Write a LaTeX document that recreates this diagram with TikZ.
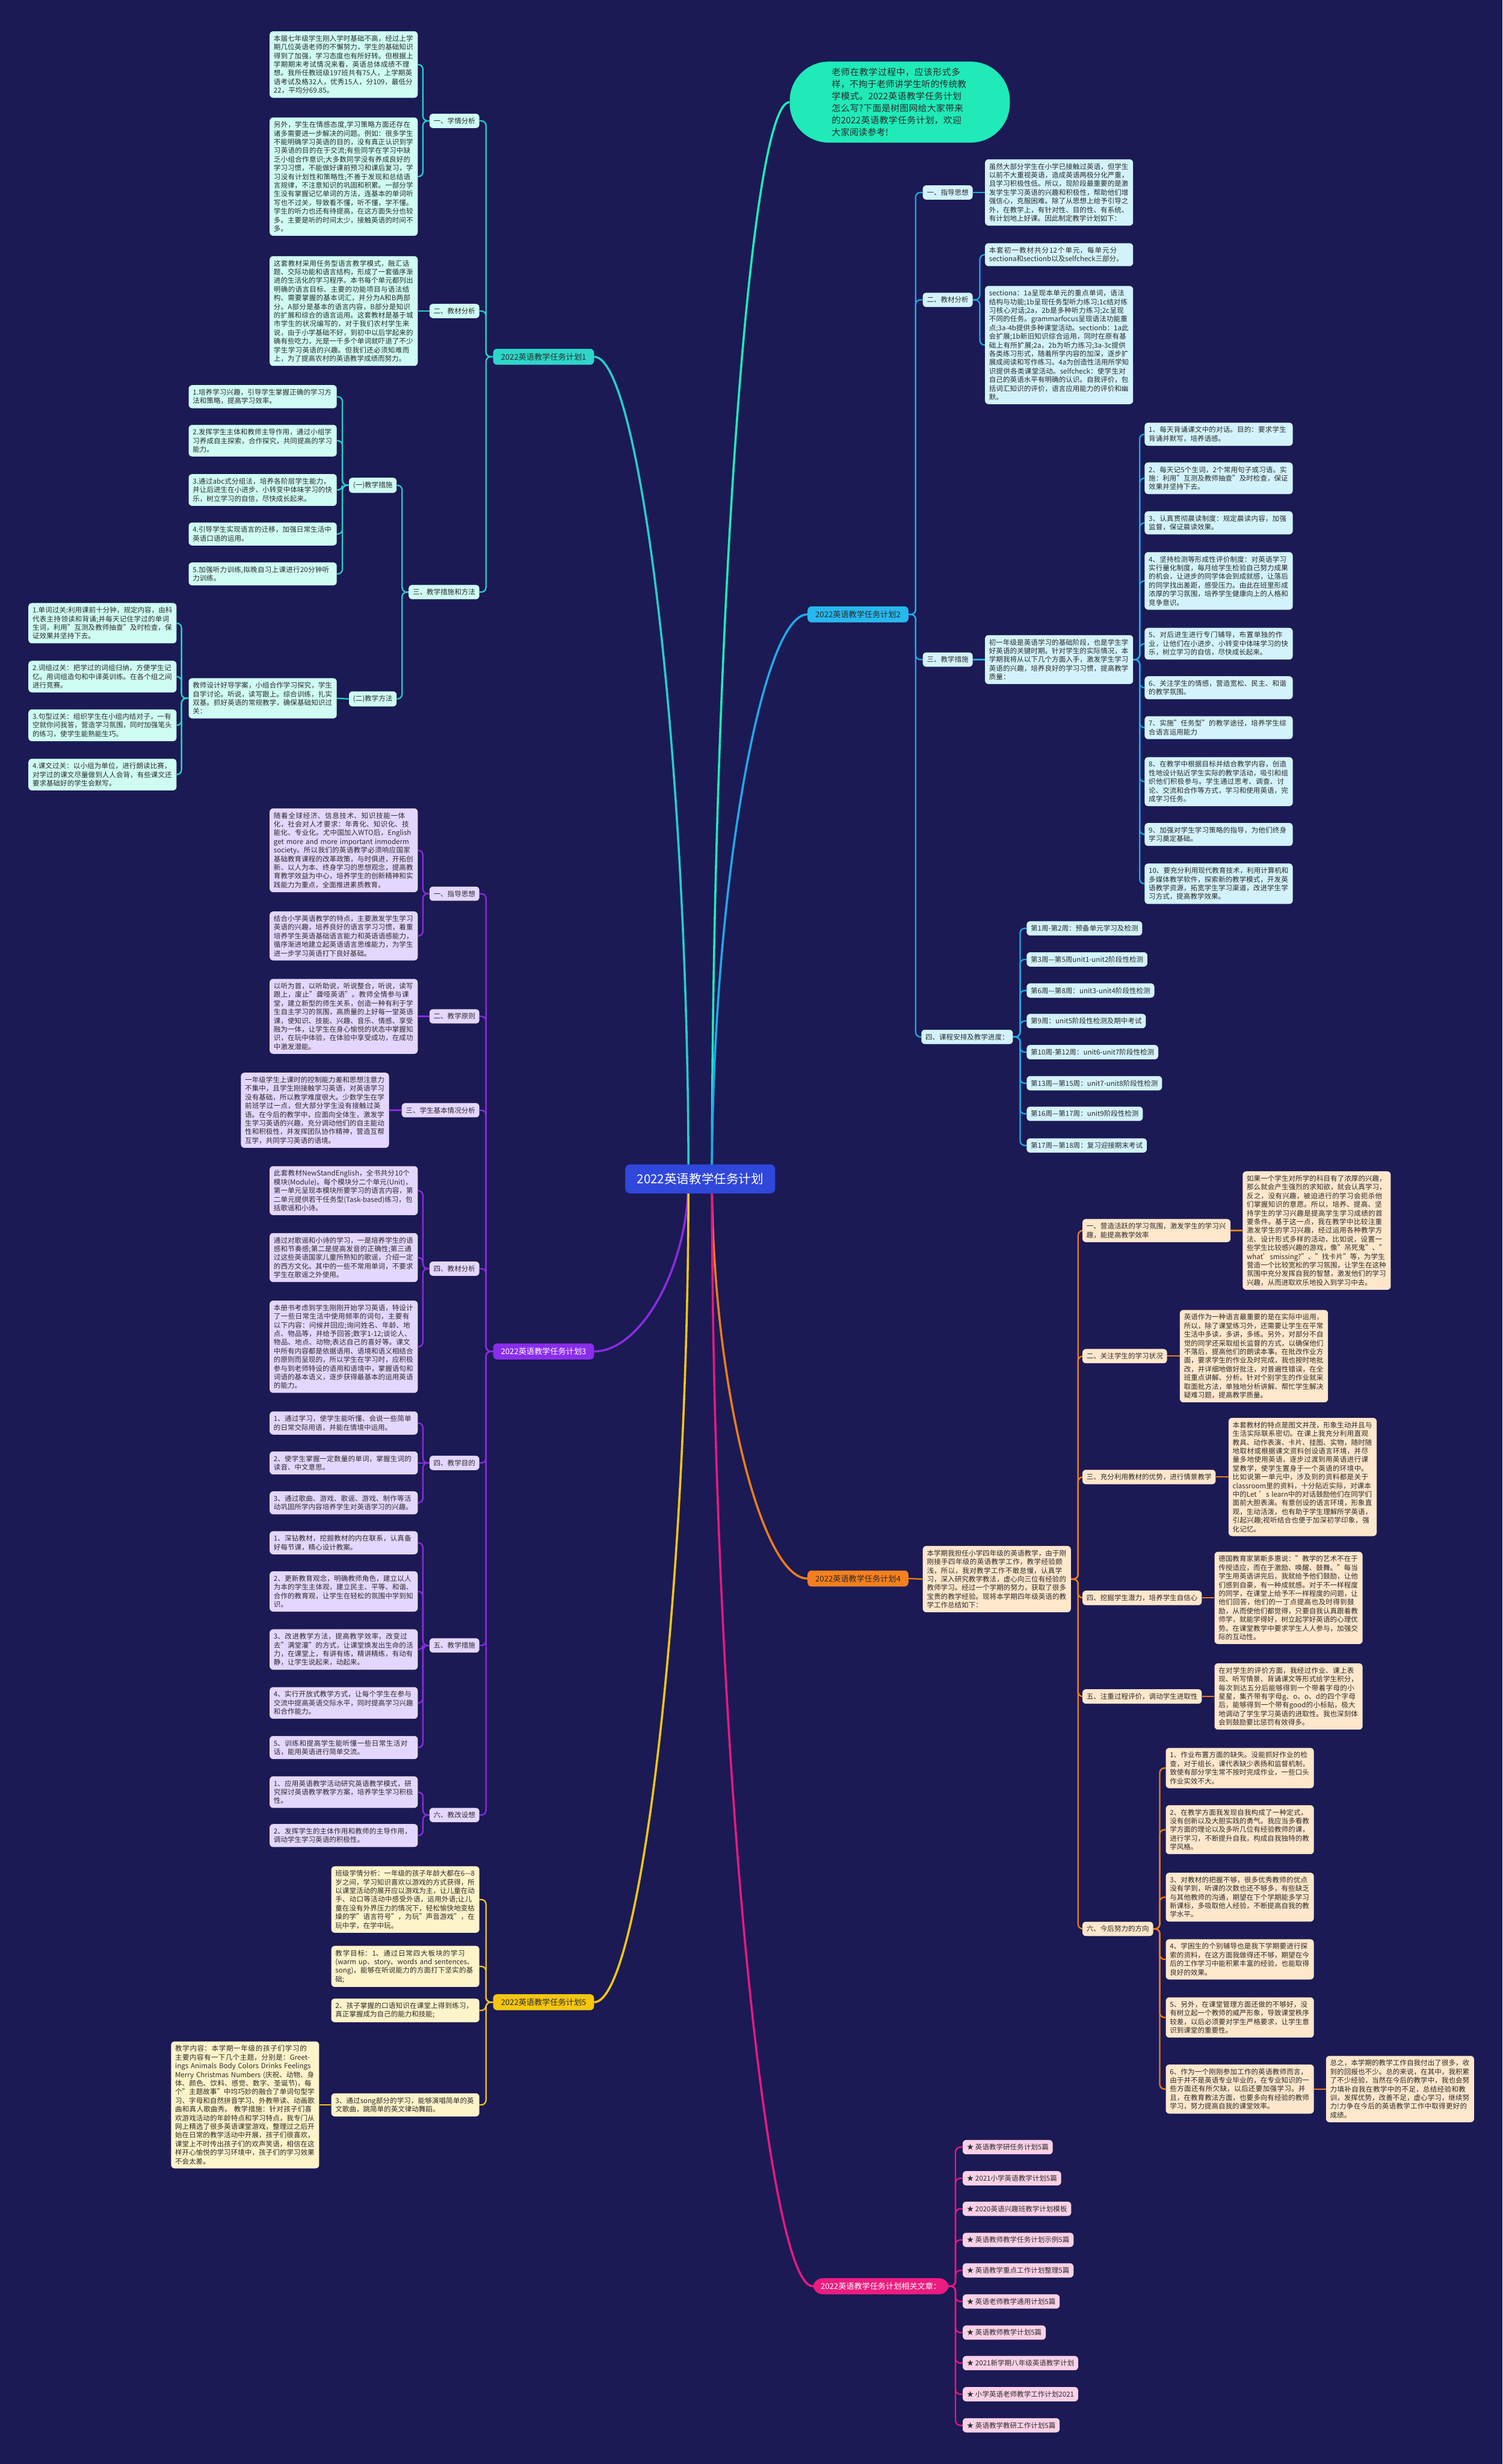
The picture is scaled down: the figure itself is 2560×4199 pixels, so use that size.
\documentclass[tikz,border=0pt]{standalone}
\usepackage{fontspec}
\setmainfont{Noto Sans CJK SC}
\XeTeXlinebreaklocale "zh"
\XeTeXlinebreakskip = 0pt plus 1pt
\usetikzlibrary{calc}

\definecolor{bgnavy}{HTML}{1B1A55}
\definecolor{ctrblue}{HTML}{2F47DB}
\definecolor{mint}{HTML}{1FEAB8}
\definecolor{inkc}{HTML}{2B2B2B}
\definecolor{tealL}{HTML}{25CFC6}
\definecolor{tealR}{HTML}{2ED6C8}
\definecolor{tealF}{HTML}{CFFDF3}
\definecolor{skyL}{HTML}{1FA9E6}
\definecolor{skyR}{HTML}{27B8EE}
\definecolor{skyF}{HTML}{D3F3FC}
\definecolor{violL}{HTML}{8A2BE2}
\definecolor{violR}{HTML}{8A2DEB}
\definecolor{violF}{HTML}{E4D7FF}
\definecolor{orgL}{HTML}{F07C1A}
\definecolor{orgR}{HTML}{F5801E}
\definecolor{orgF}{HTML}{FFE7CC}
\definecolor{yelL}{HTML}{F3C612}
\definecolor{yelR}{HTML}{F5C611}
\definecolor{yelF}{HTML}{FFF3C9}
\definecolor{pinkL}{HTML}{E8197F}
\definecolor{pinkR}{HTML}{EC1C80}
\definecolor{pinkF}{HTML}{FBD1E7}

\pgfdeclarelayer{back}
\pgfdeclarelayer{lines}
\pgfsetlayers{back,lines,main}

\newcommand\boxfont{\fontsize{10.1pt}{12.6pt}\selectfont}
\newcommand\rootfont{\fontsize{11.5pt}{14pt}\selectfont}
\newcommand\introfont{\fontsize{13pt}{17.4pt}\selectfont}
\newcommand\ctrfont{\fontsize{18pt}{22pt}\selectfont}

\tikzset{
  box/.style={rounded corners=1.8mm, inner xsep=2.1mm, inner ysep=2mm, font=\boxfont, text=inkc},
  txt/.style={box, text width=71.5mm, align=left},
  rootbox/.style={rounded corners=2mm, inner xsep=4mm, inner ysep=2.2mm, font=\rootfont, text=inkc},
  conn/.style={line width=0.7mm, rounded corners=2.4mm},
  trunk/.style={line width=1.1mm},
}

\begin{document}
\begin{tikzpicture}[x=0.3mm, y=-0.3mm]
  \begin{pgfonlayer}{back}
    \fill[bgnavy] (0,0) rectangle (2560,4199);
  \end{pgfonlayer}
  \useasboundingbox (0,0) rectangle (2560,4199);

  % centre and intro
  \node[rootbox, fill=ctrblue, text=white, font=\ctrfont, rounded corners=2.5mm, inner xsep=6mm, inner ysep=4.5mm] (ctr) at (1193,2009) {2022英语教学任务计划};
  \node[font=\introfont, fill=mint, text=inkc, text width=69.5mm, align=left, rounded corners=20mm, minimum width=112.5mm, minimum height=41.4mm] (intro) at (1533,174) {老师在教学过程中，应该形式多样，不拘于老师讲学生听的传统教学模式。2022英语教学任务计划怎么写?下面是树图网给大家带来的2022英语教学任务计划，欢迎大家阅读参考!};

  % plan 1
  \begin{scope}[every node/.append style={fill=tealF}]
    \node[rootbox, fill=tealR, anchor=west] (p1) at (840,608) {2022英语教学任务计划1};
    \node[box, anchor=east] (p1a) at (817,206) {一、学情分析};
    \node[txt, anchor=east] (p1a1) at (712,110) {本届七年级学生刚入学时基础不高，经过上学期几位英语老师的不懈努力，学生的基础知识得到了加强，学习态度也有所好转。但根据上学期期末考试情况来看，英语总体成绩不理想。我所任教班级197班共有75人，上学期英语考试及格32人，优秀15人，分109，最低分22，平均分69.85。};
    \node[txt, anchor=east] (p1a2) at (712,301) {另外，学生在情感态度,学习策略方面还存在诸多需要进一步解决的问题。例如：很多学生不能明确学习英语的目的，没有真正认识到学习英语的目的在于交流;有些同学在学习中缺乏小组合作意识;大多数同学没有养成良好的学习习惯，不能做好课前预习和课后复习，学习没有计划性和策略性;不善于发现和总结语言规律，不注意知识的巩固和积累。一部分学生没有掌握记忆单词的方法，连基本的单词听写也不过关，导致看不懂，听不懂，学不懂。学生的听力也还有待提高，在这方面失分也较多。主要是听的时间太少，接触英语的时间不多。};
    \node[box, anchor=east] (p1b) at (817,530) {二、教材分析};
    \node[txt, anchor=east] (p1b1) at (712,530) {这套教材采用任务型语言教学模式，融汇话题、交际功能和语言结构，形成了一套循序渐进的生活化的学习程序。本书每个单元都列出明确的语言目标、主要的功能项目与语法结构、需要掌握的基本词汇，并分为A和B两部分。A部分是基本的语言内容，B部分是知识的扩展和综合的语言运用。这套教材是基于城市学生的状况编写的，对于我们农村学生来说，由于小学基础不好，到初中以后学起来的确有些吃力，光是一千多个单词就吓退了不少学生学习英语的兴趣。但我们还必须知难而上，为了提高农村的英语教学成绩而努力。};
    \node[box, anchor=east] (p1c) at (817,1009) {三、教学措施和方法};
    \node[box, anchor=east] (p1c1) at (676,827) {(一)教学措施};
    \node[txt, anchor=east] (p1m1) at (574,676) {1.培养学习兴趣，引导学生掌握正确的学习方法和策略，提高学习效率。};
    \node[txt, anchor=east] (p1m2) at (574,751) {2.发挥学生主体和教师主导作用，通过小组学习养成自主探索，合作探究，共同提高的学习能力。};
    \node[txt, anchor=east] (p1m3) at (574,835) {3.通过abc式分组法，培养各阶层学生能力，并让后进生在小进步、小转变中体味学习的快乐，树立学习的自信，尽快成长起来。};
    \node[txt, anchor=east] (p1m4) at (574,910) {4.引导学生实现语言的迁移，加强日常生活中英语口语的运用。};
    \node[txt, anchor=east] (p1m5) at (574,978) {5.加强听力训练,拟晚自习上课进行20分钟听力训练。};
    \node[box, anchor=east] (p1c2) at (676,1191) {(二)教学方法};
    \node[txt, anchor=east] (p1c2t) at (574,1190) {教师设计好导学案，小组合作学习探究，学生自学讨论。听说，读写跟上。综合训练，扎实双基。抓好英语的常规教学，确保基础知识过关：};
    \node[txt, anchor=east] (p1n1) at (301,1062) {1.单词过关:利用课前十分钟，规定内容，由科代表主持领读和背诵;并每天记住学过的单词生词，利用"互测及教师抽查"及时检查，保证效果并坚持下去。};
    \node[txt, anchor=east] (p1n2) at (301,1153) {2.词组过关：把学过的词组归纳，方便学生记忆。用词组造句和中译英训练。在各个组之间进行竞赛。};
    \node[txt, anchor=east] (p1n3) at (301,1236) {3.句型过关：组织学生在小组内结对子，一有空就你问我答，营造学习氛围，同时加强笔头的练习，使学生能熟能生巧。};
    \node[txt, anchor=east] (p1n4) at (301,1320) {4.课文过关：以小组为单位，进行朗读比赛，对学过的课文尽量做到人人会背，有些课文还要求基础好的学生会默写。};
  \end{scope}

  % plan 2
  \begin{scope}[every node/.append style={fill=skyF}]
    \node[rootbox, fill=skyR, anchor=east] (p2) at (1548,1047) {2022英语教学任务计划2};
    \node[box, anchor=west] (p2a) at (1572,328) {一、指导思想};
    \node[txt, anchor=west] (p2a1) at (1678,328) {虽然大部分学生在小学已接触过英语，但学生以前不大重视英语，造成英语两极分化严重，且学习积极性低。所以，现阶段最重要的是激发学生学习英语的兴趣和积极性，帮助他们增强信心，克服困难。除了从思想上给予引导之外，在教学上，有针对性、目的性、有系统、有计划地上好课。因此制定教学计划如下：};
    \node[box, anchor=west] (p2b) at (1572,511) {二、教材分析};
    \node[txt, anchor=west] (p2b1) at (1678,434) {本套初一教材共分12个单元，每单元分sectiona和sectionb以及selfcheck三部分。};
    \node[txt, anchor=west] (p2b2) at (1678,588) {sectiona：1a呈现本单元的重点单词，语法结构与功能;1b呈现任务型听力练习;1c结对练习核心对话;2a，2b是多种听力练习;2c呈现不同的任务。grammarfocus呈现语法功能重点;3a-4b提供多种课堂活动。sectionb：1a此会扩展;1b新旧知识综合运用，同时在原有基础上有所扩展;2a，2b为听力练习;3a-3c提供各类练习形式，随着所学内容的加深，逐步扩展成阅读和写作练习。4a为创造性活用所学知识提供各类课堂活动。selfcheck：使学生对自己的英语水平有明确的认识。自我评价，包括词汇知识的评价，语言应用能力的评价和幽默。};
    \node[box, anchor=west] (p2c) at (1572,1124) {三、教学措施};
    \node[txt, anchor=west] (p2c1) at (1678,1124) {初一年级是英语学习的基础阶段，也是学生学好英语的关键时期。针对学生的实际情况，本学期我将从以下几个方面入手，激发学生学习英语的兴趣，培养良好的学习习惯，提高教学质量：};
    \node[txt, anchor=west] (p2q1) at (1950,740) {1、每天背诵课文中的对话。目的：要求学生背诵并默写，培养语感。};
    \node[txt, anchor=west] (p2q2) at (1950,815) {2、每天记5个生词，2个常用句子或习语。实施：利用"互测及教师抽查"及时检查，保证效果并坚持下去。};
    \node[txt, anchor=west] (p2q3) at (1950,891) {3、认真贯彻晨读制度：规定晨读内容，加强监督，保证晨读效果。};
    \node[txt, anchor=west] (p2q4) at (1950,990) {4、坚持检测等形成性评价制度：对英语学习实行量化制度，每月给学生检验自己努力成果的机会，让进步的同学体会到成就感，让落后的同学找出差距，感受压力。由此在班里形成浓厚的学习氛围，培养学生健康向上的人格和竞争意识。};
    \node[txt, anchor=west] (p2q5) at (1950,1097) {5、对后进生进行专门辅导，布置单独的作业，让他们在小进步、小转变中体味学习的快乐，树立学习的自信，尽快成长起来。};
    \node[txt, anchor=west] (p2q6) at (1950,1172) {6、关注学生的情感，营造宽松、民主、和谐的教学氛围。};
    \node[txt, anchor=west] (p2q7) at (1950,1240) {7、实施"任务型"的教学途径，培养学生综合语言运用能力};
    \node[txt, anchor=west] (p2q8) at (1950,1332) {8、在教学中根据目标并结合教学内容，创造性地设计贴近学生实际的教学活动，吸引和组织他们积极参与。学生通过思考、调查、讨论、交流和合作等方式，学习和使用英语，完成学习任务。};
    \node[txt, anchor=west] (p2q9) at (1950,1422) {9、加强对学生学习策略的指导，为他们终身学习奠定基础。};
    \node[txt, anchor=west] (p2q10) at (1950,1506) {10、要充分利用现代教育技术，利用计算机和多媒体教学软件，探索新的教学模式，开发英语教学资源，拓宽学生学习渠道，改进学生学习方式，提高教学效果。};
    \node[box, anchor=east] (p2d) at (1726,1767) {四、课程安排及教学进度：};
    \node[box, anchor=west] (p2w1) at (1749,1582) {第1周-第2周：预备单元学习及检测};
    \node[box, anchor=west] (p2w2) at (1749,1635) {第3周—第5周unit1-unit2阶段性检测};
    \node[box, anchor=west] (p2w3) at (1749,1688) {第6周—第8周：unit3-unit4阶段性检测};
    \node[box, anchor=west] (p2w4) at (1749,1740) {第9周：unit5阶段性检测及期中考试};
    \node[box, anchor=west] (p2w5) at (1749,1793) {第10周-第12周：unit6-unit7阶段性检测};
    \node[box, anchor=west] (p2w6) at (1749,1846) {第13周—第15周：unit7-unit8阶段性检测};
    \node[box, anchor=west] (p2w7) at (1749,1898) {第16周—第17周：unit9阶段性检测};
    \node[box, anchor=west] (p2w8) at (1749,1952) {第17周—第18周：复习迎接期末考试};
  \end{scope}

  % plan 3
  \begin{scope}[every node/.append style={fill=violF}]
    \node[rootbox, fill=violR, text=white, anchor=west] (p3) at (840,2303) {2022英语教学任务计划3};
    \node[box, anchor=east] (p3a) at (817,1523) {一、指导思想};
    \node[txt, anchor=east] (p3a1) at (712,1449) {随着全球经济、信息技术、知识技能一体化，社会对人才要求：年青化、知识化、技能化、专业化。尤中国加入WTO后，English get more and more important inmoderm society。所以我们的英语教学必须响应国家基础教育课程的改革政策，与时俱进，开拓创新、以人为本、终身学习的思想观念，提高教育教学效益为中心，培养学生的创新精神和实践能力为重点，全面推进素质教育。};
    \node[txt, anchor=east] (p3a2) at (712,1595) {结合小学英语教学的特点，主要激发学生学习英语的兴趣，培养良好的语言学习习惯，着重培养学生英语基础语言能力和英语语感能力，循序渐进地建立起英语语言思维能力，为学生进一步学习英语打下良好基础。};
    \node[box, anchor=east] (p3b) at (817,1732) {二、教学原则};
    \node[txt, anchor=east] (p3b1) at (712,1732) {以听为首，以听助说，听说整合，听说，读写跟上，废止"聋哑英语"。教师全情参与课堂，建立新型的师生关系，创造一种有利于学生自主学习的氛围，高质量的上好每一堂英语课，使知识、技能、兴趣、音乐、情感、享受融为一体，让学生在身心愉悦的状态中掌握知识，在玩中体验，在体验中享受成功，在成功中激发潜能。};
    \node[box, anchor=east] (p3c) at (817,1892) {三、学生基本情况分析};
    \node[txt, anchor=east] (p3c1) at (663,1892) {一年级学生上课时的控制能力差和思想注意力不集中，且学生刚接触学习英语，对英语学习没有基础，所以教学难度很大。少数学生在学前班学过一点，但大部分学生没有接触过英语。在今后的教学中，应面向全体生，激发学生学习英语的兴趣，充分调动他们的自主能动性和积极性，并发挥团队协作精神，营造互帮互学，共同学习英语的语境。};
    \node[box, anchor=east] (p3d) at (817,2162) {四、教材分析};
    \node[txt, anchor=east] (p3d1) at (712,2029) {此套教材NewStandEnglish，全书共分10个模块(Module)。每个模块分二个单元(Unit)，第一单元呈现本模块所要学习的语言内容，第二单元提供若干任务型(Task-based)练习，包括歌谣和小诗。};
    \node[txt, anchor=east] (p3d2) at (712,2143) {通过对歌谣和小诗的学习，一是培养学生的语感和节奏感;第二是提高发音的正确性;第三通过这些英语国家儿童所熟知的歌谣，介绍一定的西方文化。其中的一些不常用单词，不要求学生在歌谣之外使用。};
    \node[txt, anchor=east] (p3d3) at (712,2295) {本册书考虑到学生刚刚开始学习英语，特设计了一些日常生活中使用频率的词句，主要有以下内容：问候并回应;询问姓名、年龄、地点、物品等，并给予回答;数字1-12;谈论人、物品、地点、动物;表达自己的喜好等。课文中所有内容都是依据语用、语境和语义相结合的原则而呈现的，所以学生在学习时，应积极参与到老师特设的语用和语境中，掌握语句和词语的基本语义，逐步获得最基本的运用英语的能力。};
    \node[box, anchor=east] (p3e) at (817,2493) {四、教学目的};
    \node[txt, anchor=east] (p3e1) at (712,2425) {1、通过学习，使学生能听懂、会说一些简单的日常交际用语，并能在情境中运用。};
    \node[txt, anchor=east] (p3e2) at (712,2493) {2、使学生掌握一定数量的单词，掌握生词的读音、中文意思。};
    \node[txt, anchor=east] (p3e3) at (712,2561) {3、通过歌曲、游戏、歌谣、游戏、制作等活动巩固所学内容培养学生对英语学习的兴趣。};
    \node[box, anchor=east] (p3f) at (817,2804) {五、教学措施};
    \node[txt, anchor=east] (p3f1) at (712,2629) {1、深钻教材，挖掘教材的内在联系，认真备好每节课，精心设计教案。};
    \node[txt, anchor=east] (p3f2) at (712,2712) {2、更新教育观念，明确教师角色，建立以人为本的学生主体观，建立民主、平等、和谐、合作的教育观，让学生在轻松的氛围中学到知识。};
    \node[txt, anchor=east] (p3f3) at (712,2811) {3、改进教学方法，提高教学效率，改变过去"满堂灌"的方式，让课堂焕发出生命的活力，在课堂上，有讲有练，精讲精练，有动有静，让学生说起来，动起来。};
    \node[txt, anchor=east] (p3f4) at (712,2902) {4、实行开放式教学方式，让每个学生在参与交流中提高英语交际水平，同时提高学习兴趣和合作能力。};
    \node[txt, anchor=east] (p3f5) at (712,2978) {5、训练和提高学生能听懂一些日常生活对话，能用英语进行简单交流。};
    \node[box, anchor=east] (p3g) at (817,3093) {六、教改设想};
    \node[txt, anchor=east] (p3g1) at (712,3054) {1、应用英语教学活动研究英语教学模式，研究探讨英语教学教学方案，培养学生学习积极性。};
    \node[txt, anchor=east] (p3g2) at (712,3128) {2、发挥学生的主体作用和教师的主导作用，调动学生学习英语的积极性。};
  \end{scope}

  % plan 4
  \begin{scope}[every node/.append style={fill=orgF}]
    \node[rootbox, fill=orgR, anchor=east] (p4) at (1548,2690) {2022英语教学任务计划4};
    \node[txt, anchor=west] (p4a) at (1572,2691) {本学期我担任小学四年级的英语教学，由于刚刚接手四年级的英语教学工作，教学经验颇浅，所以，我对教学工作不敢怠慢，认真学习，深入研究教学教法，虚心向三位有经验的教师学习。经过一个学期的努力，获取了很多宝贵的教学经验。现将本学期四年级英语的教学工作总结如下：};
    \node[txt, anchor=west] (p4b) at (1844,2097) {一、营造活跃的学习氛围，激发学生的学习兴趣，能提高教学效率};
    \node[txt, anchor=west] (p4b1) at (2117,2097) {如果一个学生对所学的科目有了浓厚的兴趣，那么就会产生强烈的求知欲，就会认真学习，反之，没有兴趣，被迫进行的学习会扼杀他们掌握知识的意愿。所以，培养、提高、坚持学生的学习兴趣是提高学生学习成绩的首要条件。基于这一点，我在教学中比较注重激发学生的学习兴趣，经过运用各种教学方法、设计形式多样的活动，比如说，设置一些学生比较感兴趣的游戏，像"吊死鬼"、"what'smissing?"、"找卡片"等，为学生营造一个比较宽松的学习氛围，让学生在这种氛围中充分发挥自我的智慧，激发他们的学习兴趣，从而进取欢乐地投入到学习中去。};
    \node[box, anchor=west] (p4c) at (1844,2311) {二、关注学生的学习状况};
    \node[txt, anchor=west] (p4c1) at (2010,2311) {英语作为一种语言最重要的是在实际中运用，所以，除了课堂练习外，还需要让学生在平常生活中多读，多讲，多练。另外，对部分不自觉的同学还采取组长监督的方式，以确保他们不落后，提高他们的朗读本事。在批改作业方面，要求学生的作业及时完成，我也按时地批改，并详细地做好批注，对普遍性错误，在全班重点讲解、分析。针对个别学生的作业就采取面批方法，单独地分析讲解、帮忙学生解决疑难习题，提高教学质量。};
    \node[box, anchor=west] (p4d) at (1844,2517) {三、充分利用教材的优势，进行情景教学};
    \node[txt, anchor=west] (p4d1) at (2093,2517) {本套教材的特点是图文并茂，形象生动并且与生活实际联系密切。在课上我充分利用直观教具、动作表演、卡片、挂图、实物，随时随地取材或根据课文资料创设语言环境，并尽量多地使用英语，逐步过渡到用英语进行课堂教学，使学生置身于一个英语的环境中。比如说第一单元中，涉及到的资料都是关于classroom里的资料，十分贴近实际，对课本中的Let 's learn中的对话鼓励他们在同学们面前大胆表演。有意创设的语言环境，形象直观，生动活泼，也有助于学生理解所学英语，引起兴趣;视听结合也便于加深初学印象，强化记忆。};
    \node[box, anchor=west] (p4e) at (1844,2723) {四、挖掘学生潜力，培养学生自信心};
    \node[txt, anchor=west] (p4e1) at (2069,2723) {德国教育家第斯多惠说："教学的艺术不在于传授适应，而在于激励、唤醒、鼓舞。"每当学生用英语讲完后，我就给予他们鼓励，让他们感到自豪，有一种成就感。对于不一样程度的同学，在课堂上给予不一样程度的问题，让他们回答，他们的一丁点提高也及时得到鼓励，从而使他们都觉得，只要自我认真跟着教师学，就能学得好，树立起学好英语的心理优势。在课堂教学中要求学生人人参与，加强交际的互动性。};
    \node[box, anchor=west] (p4f) at (1844,2891) {五、注重过程评价，调动学生进取性};
    \node[txt, anchor=west] (p4f1) at (2069,2891) {在对学生的评价方面，我经过作业、课上表现、听写情景、背诵课文等形式给学生积分，每次到达五分后能够得到一个带着字母的小星星，集齐带有字母g、o、o、d的四个字母后，能够得到一个带有good的小标贴，极大地调动了学生学习英语的进取性。我也深刻体会到鼓励要比惩罚有效得多。};
    \node[box, anchor=west] (p4g) at (1844,3287) {六、今后努力的方向};
    \node[txt, anchor=west] (p4g1) at (1986,3013) {1、作业布置方面的缺失。没能抓好作业的检查，对于组长，课代表缺少表扬和监督机制，致使有部分学生常不按时完成作业，一些口头作业实效不大。};
    \node[txt, anchor=west] (p4g2) at (1986,3118) {2、在教学方面我发现自我构成了一种定式，没有创新以及大胆实践的勇气。我应当多看教学方面的理论以及多听几位有经验教师的课，进行学习，不断提升自我，构成自我独特的教学风格。};
    \node[txt, anchor=west] (p4g3) at (1986,3233) {3、对教材的把握不够，很多优秀教师的优点没有学到，听课的次数也还不够多，有些缺乏与其他教师的沟通，期望在下个学期能多学习新课标，多吸取他人经验，不断提高自我的教学水平。};
    \node[txt, anchor=west] (p4g4) at (1986,3339) {4、学困生的个别辅导也是我下学期要进行探索的资料，在这方面我做得还不够，期望在今后的工作学习中能积累丰富的经验，也能取得良好的效果。};
    \node[txt, anchor=west] (p4g5) at (1986,3438) {5、另外，在课堂管理方面还做的不够好，没有树立起一个教师的威严形象，导致课堂秩序较差，以后必须要对学生严格要求，让学生意识到课堂的重要性。};
    \node[txt, anchor=west] (p4g6) at (1986,3560) {6、作为一个刚刚参加工作的英语教师而言，由于并不是英语专业毕业的，在专业知识的一些方面还有所欠缺，以后还要加强学习。并且，在教育教法方面，也要多向有经验的教师学习，努力提高自我的课堂效率。};
    \node[txt, anchor=west] (p4h) at (2259,3560) {总之，本学期的教学工作自我付出了很多，收到的回报也不少。总的来说，在其中，我积累了不少经验，当然在今后的教学中，我也会努力填补自我在教学中的不足，总结经验和教训，发挥优势，改善不足，虚心学习，继续努力!力争在今后的英语教学工作中取得更好的成绩。};
  \end{scope}

  % plan 5
  \begin{scope}[every node/.append style={fill=yelF}]
    \node[rootbox, fill=yelR, anchor=west] (p5) at (840,3412) {2022英语教学任务计划5};
    \node[txt, anchor=east] (p5a) at (817,3237) {班级学情分析：一年级的孩子年龄大都在6—8岁之间，学习知识喜欢以游戏的方式获得，所以课堂活动的展开应以游戏为主，让儿童在动手、动口等活动中感受外语，运用外语;让儿童在没有外界压力的情况下，轻松愉快地变枯燥的学"语言符号"，为玩"声音游戏"，在玩中学，在学中玩。};
    \node[txt, anchor=east] (p5b) at (817,3351) {教学目标：1、通过日常四大板块的学习(warm up、story、words and sentences、song)，能够在听说能力的方面打下坚实的基础;};
    \node[txt, anchor=east] (p5c) at (817,3426) {2、孩子掌握的口语知识在课堂上得到练习，真正掌握成为自己的能力和技能;};
    \node[txt, anchor=east] (p5d) at (817,3587) {3、通过song部分的学习，能够演唱简单的英文歌曲，跳简单的英文律动舞蹈。};
    \node[txt, anchor=east] (p5d1) at (544,3587) {教学内容：本学期一年级的孩子们学习的主要内容有一下几个主题，分别是：Greetings Animals Body Colors Drinks Feelings Merry Christmas Numbers (庆祝、动物、身体、颜色、饮料、感觉、数字、圣诞节)，每个"主题故事"中均巧妙的融合了单词句型学习、字母和自然拼音学习、外教带读、动画歌曲和真人歌曲秀。 教学措施：针对孩子们喜欢游戏活动的年龄特点和学习特点，我专门从网上精选了很多英语课堂游戏，整理过之后开始在日常的教学活动中开展，孩子们很喜欢，课堂上不时传出孩子们的欢声笑语，相信在这样开心愉悦的学习环境中，孩子们的学习效果不会太差。};
  \end{scope}

  % related articles
  \begin{scope}[every node/.append style={fill=pinkF}]
    \node[rootbox, fill=pinkR, text=white, rounded corners=5mm, anchor=east] (rel) at (1617,3896) {2022英语教学任务计划相关文章：};
    \node[box, anchor=west] (r1) at (1640,3659) {★ 英语教学研任务计划5篇};
    \node[box, anchor=west] (r2) at (1640,3712) {★ 2021小学英语教学计划5篇};
    \node[box, anchor=west] (r3) at (1640,3764) {★ 2020英语兴趣班教学计划模板};
    \node[box, anchor=west] (r4) at (1640,3817) {★ 英语教师教学任务计划示例5篇};
    \node[box, anchor=west] (r5) at (1640,3869) {★ 英语教学重点工作计划整理5篇};
    \node[box, anchor=west] (r6) at (1640,3922) {★ 英语老师教学通用计划5篇};
    \node[box, anchor=west] (r7) at (1640,3975) {★ 英语教师教学计划5篇};
    \node[box, anchor=west] (r8) at (1640,4027) {★ 2021新学期八年级英语教学计划};
    \node[box, anchor=west] (r9) at (1640,4080) {★ 小学英语老师教学工作计划2021};
    \node[box, anchor=west] (r10) at (1640,4133) {★ 英语教学教研工作计划5篇};
  \end{scope}

  \begin{pgfonlayer}{lines}
    % trunks from the centre
    \draw[trunk, mint] ([xshift=6mm]ctr.center) .. controls +(0,-900) and +(-70,0) .. (intro.west);
    \draw[trunk, tealL] ([xshift=-6mm]ctr.center) .. controls +(0,-700) and +(80,0) .. (p1.east);
    \draw[trunk, skyL] ([xshift=6mm]ctr.center) .. controls +(0,-480) and +(-80,0) .. (p2.west);
    \draw[trunk, violL] ([xshift=-6mm]ctr.center) .. controls +(0,150) and +(80,0) .. (p3.east);
    \draw[trunk, orgL] ([xshift=6mm]ctr.center) .. controls +(0,340) and +(-80,0) .. (p4.west);
    \draw[trunk, yelL] ([xshift=-6mm]ctr.center) .. controls +(0,700) and +(80,0) .. (p5.east);
    \draw[trunk, pinkL] ([xshift=6mm]ctr.center) .. controls +(0,940) and +(-80,0) .. (rel.west);

    \begin{scope}[tealL]
      \draw[conn] (p1.west) -- ++(-12,0) |- (p1a.east);
      \draw[conn] (p1.west) -- ++(-12,0) |- (p1b.east);
      \draw[conn] (p1.west) -- ++(-12,0) |- (p1c.east);
      \draw[conn] (p1a.west) -- ++(-11,0) |- (p1a1.east);
      \draw[conn] (p1a.west) -- ++(-11,0) |- (p1a2.east);
      \draw[conn] (p1b.west) -- (p1b1.east);
      \draw[conn] (p1c.west) -- ++(-11,0) |- (p1c1.east);
      \draw[conn] (p1c.west) -- ++(-11,0) |- (p1c2.east);
      \draw[conn] (p1c1.west) -- ++(-11,0) |- (p1m1.east);
      \draw[conn] (p1c1.west) -- ++(-11,0) |- (p1m2.east);
      \draw[conn] (p1c1.west) -- ++(-11,0) |- (p1m3.east);
      \draw[conn] (p1c1.west) -- ++(-11,0) |- (p1m4.east);
      \draw[conn] (p1c1.west) -- ++(-11,0) |- (p1m5.east);
      \draw[conn] (p1c2.west) -- (p1c2t.east);
      \draw[conn] (p1c2t.west) -- ++(-12,0) |- (p1n1.east);
      \draw[conn] (p1c2t.west) -- ++(-12,0) |- (p1n2.east);
      \draw[conn] (p1c2t.west) -- ++(-12,0) |- (p1n3.east);
      \draw[conn] (p1c2t.west) -- ++(-12,0) |- (p1n4.east);
    \end{scope}

    \begin{scope}[skyL]
      \draw[conn] (p2.east) -- ++(12,0) |- (p2a.west);
      \draw[conn] (p2.east) -- ++(12,0) |- (p2b.west);
      \draw[conn] (p2.east) -- ++(12,0) |- (p2c.west);
      \draw[conn] (p2.east) -- ++(12,0) |- (p2d.west);
      \draw[conn] (p2a.east) -- (p2a1.west);
      \draw[conn] (p2b.east) -- ++(12,0) |- (p2b1.west);
      \draw[conn] (p2b.east) -- ++(12,0) |- (p2b2.west);
      \draw[conn] (p2c.east) -- (p2c1.west);
      \draw[conn] (p2c1.east) -- ++(11,0) |- (p2q1.west);
      \draw[conn] (p2c1.east) -- ++(11,0) |- (p2q2.west);
      \draw[conn] (p2c1.east) -- ++(11,0) |- (p2q3.west);
      \draw[conn] (p2c1.east) -- ++(11,0) |- (p2q4.west);
      \draw[conn] (p2c1.east) -- ++(11,0) |- (p2q5.west);
      \draw[conn] (p2c1.east) -- ++(11,0) |- (p2q6.west);
      \draw[conn] (p2c1.east) -- ++(11,0) |- (p2q7.west);
      \draw[conn] (p2c1.east) -- ++(11,0) |- (p2q8.west);
      \draw[conn] (p2c1.east) -- ++(11,0) |- (p2q9.west);
      \draw[conn] (p2c1.east) -- ++(11,0) |- (p2q10.west);
      \draw[conn] (p2d.east) -- ++(12,0) |- (p2w1.west);
      \draw[conn] (p2d.east) -- ++(12,0) |- (p2w2.west);
      \draw[conn] (p2d.east) -- ++(12,0) |- (p2w3.west);
      \draw[conn] (p2d.east) -- ++(12,0) |- (p2w4.west);
      \draw[conn] (p2d.east) -- ++(12,0) |- (p2w5.west);
      \draw[conn] (p2d.east) -- ++(12,0) |- (p2w6.west);
      \draw[conn] (p2d.east) -- ++(12,0) |- (p2w7.west);
      \draw[conn] (p2d.east) -- ++(12,0) |- (p2w8.west);
    \end{scope}

    \begin{scope}[violL]
      \draw[conn] (p3.west) -- ++(-12,0) |- (p3a.east);
      \draw[conn] (p3.west) -- ++(-12,0) |- (p3b.east);
      \draw[conn] (p3.west) -- ++(-12,0) |- (p3c.east);
      \draw[conn] (p3.west) -- ++(-12,0) |- (p3d.east);
      \draw[conn] (p3.west) -- ++(-12,0) |- (p3e.east);
      \draw[conn] (p3.west) -- ++(-12,0) |- (p3f.east);
      \draw[conn] (p3.west) -- ++(-12,0) |- (p3g.east);
      \draw[conn] (p3a.west) -- ++(-11,0) |- (p3a1.east);
      \draw[conn] (p3a.west) -- ++(-11,0) |- (p3a2.east);
      \draw[conn] (p3b.west) -- (p3b1.east);
      \draw[conn] (p3c.west) -- (p3c1.east);
      \draw[conn] (p3d.west) -- ++(-11,0) |- (p3d1.east);
      \draw[conn] (p3d.west) -- ++(-11,0) |- (p3d2.east);
      \draw[conn] (p3d.west) -- ++(-11,0) |- (p3d3.east);
      \draw[conn] (p3e.west) -- ++(-11,0) |- (p3e1.east);
      \draw[conn] (p3e.west) -- (p3e2.east);
      \draw[conn] (p3e.west) -- ++(-11,0) |- (p3e3.east);
      \draw[conn] (p3f.west) -- ++(-11,0) |- (p3f1.east);
      \draw[conn] (p3f.west) -- ++(-11,0) |- (p3f2.east);
      \draw[conn] (p3f.west) -- ++(-11,0) |- (p3f3.east);
      \draw[conn] (p3f.west) -- ++(-11,0) |- (p3f4.east);
      \draw[conn] (p3f.west) -- ++(-11,0) |- (p3f5.east);
      \draw[conn] (p3g.west) -- ++(-11,0) |- (p3g1.east);
      \draw[conn] (p3g.west) -- ++(-11,0) |- (p3g2.east);
    \end{scope}

    \begin{scope}[orgL]
      \draw[conn] (p4.east) -- (p4a.west);
      \draw[conn] (p4a.east) -- ++(12,0) |- (p4b.west);
      \draw[conn] (p4a.east) -- ++(12,0) |- (p4c.west);
      \draw[conn] (p4a.east) -- ++(12,0) |- (p4d.west);
      \draw[conn] (p4a.east) -- ++(12,0) |- (p4e.west);
      \draw[conn] (p4a.east) -- ++(12,0) |- (p4f.west);
      \draw[conn] (p4a.east) -- ++(12,0) |- (p4g.west);
      \draw[conn] (p4b.east) -- (p4b1.west);
      \draw[conn] (p4c.east) -- (p4c1.west);
      \draw[conn] (p4d.east) -- (p4d1.west);
      \draw[conn] (p4e.east) -- (p4e1.west);
      \draw[conn] (p4f.east) -- (p4f1.west);
      \draw[conn] (p4g.east) -- ++(11,0) |- (p4g1.west);
      \draw[conn] (p4g.east) -- ++(11,0) |- (p4g2.west);
      \draw[conn] (p4g.east) -- ++(11,0) |- (p4g3.west);
      \draw[conn] (p4g.east) -- ++(11,0) |- (p4g4.west);
      \draw[conn] (p4g.east) -- ++(11,0) |- (p4g5.west);
      \draw[conn] (p4g.east) -- ++(11,0) |- (p4g6.west);
      \draw[conn] (p4g6.east) -- (p4h.west);
    \end{scope}

    \begin{scope}[yelL]
      \draw[conn] (p5.west) -- ++(-12,0) |- (p5a.east);
      \draw[conn] (p5.west) -- ++(-12,0) |- (p5b.east);
      \draw[conn] (p5.west) -- ++(-12,0) |- (p5c.east);
      \draw[conn] (p5.west) -- ++(-12,0) |- (p5d.east);
      \draw[conn] (p5d.west) -- (p5d1.east);
    \end{scope}

    \begin{scope}[pinkL]
      \draw[conn] (rel.east) -- ++(11,0) |- (r1.west);
      \draw[conn] (rel.east) -- ++(11,0) |- (r2.west);
      \draw[conn] (rel.east) -- ++(11,0) |- (r3.west);
      \draw[conn] (rel.east) -- ++(11,0) |- (r4.west);
      \draw[conn] (rel.east) -- ++(11,0) |- (r5.west);
      \draw[conn] (rel.east) -- ++(11,0) |- (r6.west);
      \draw[conn] (rel.east) -- ++(11,0) |- (r7.west);
      \draw[conn] (rel.east) -- ++(11,0) |- (r8.west);
      \draw[conn] (rel.east) -- ++(11,0) |- (r9.west);
      \draw[conn] (rel.east) -- ++(11,0) |- (r10.west);
    \end{scope}
  \end{pgfonlayer}
\end{tikzpicture}
\end{document}
